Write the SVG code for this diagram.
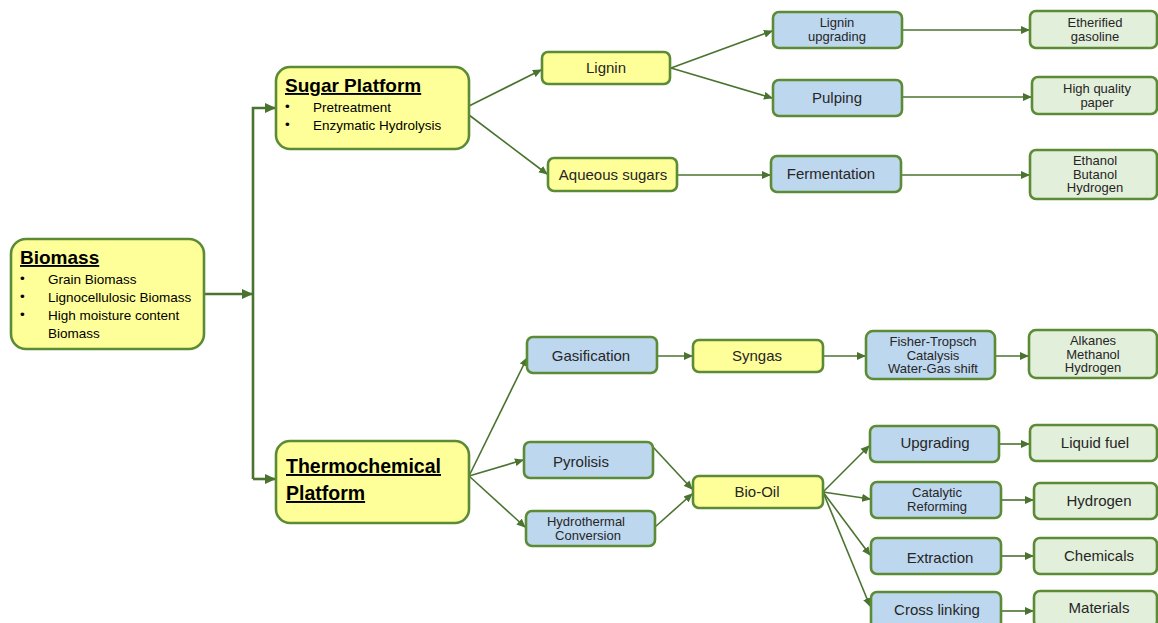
<svg xmlns="http://www.w3.org/2000/svg" width="1158" height="623" viewBox="0 0 1158 623">
<defs>
<style>
.y{fill:#ffff99;stroke:#5b8c35;stroke-width:2.6}
.b{fill:#bdd7ee;stroke:#5b8c35;stroke-width:2.6}
.g{fill:#e2efda;stroke:#5b8c35;stroke-width:2.6}
.t{font-family:"Liberation Sans",Arial,sans-serif;font-size:15px;fill:#262626;text-anchor:middle}
.m{font-family:"Liberation Sans",Arial,sans-serif;font-size:13px;fill:#262626;text-anchor:middle}
.h{font-family:"Liberation Sans",Arial,sans-serif;font-size:19px;font-weight:bold;fill:#000;text-decoration:underline}
.s{font-family:"Liberation Sans",Arial,sans-serif;font-size:13.5px;fill:#000}
.c{fill:none;stroke:#4a7330;stroke-width:1.6;marker-end:url(#a)}
.k{fill:none;stroke:#4a7330;stroke-width:2.6}
</style>
<marker id="a" markerUnits="userSpaceOnUse" markerWidth="9" markerHeight="9" refX="8" refY="4.5" orient="auto">
<path d="M0,0.5 L9,4.5 L0,8.5 z" fill="#4a7330"/>
</marker>
<marker id="a2" markerUnits="userSpaceOnUse" markerWidth="11" markerHeight="11" refX="10" refY="5.5" orient="auto">
<path d="M0,0.5 L11,5.5 L0,10.5 z" fill="#4a7330"/>
</marker>
</defs>

<g id="connectors">
<path class="k" d="M204,294 H252" marker-end="url(#a2)"/>
<path class="k" d="M253,479 V108 H275" marker-end="url(#a2)"/>
<path class="k" d="M253,479 H275" marker-end="url(#a2)"/>
<path class="c" d="M469,106 L541,70"/>
<path class="c" d="M469,115 L547,174"/>
<path class="c" d="M671,68 L772,31"/>
<path class="c" d="M671,68 L772,98"/>
<path class="c" d="M902,30 L1029,30"/>
<path class="c" d="M902,97 L1031,97"/>
<path class="c" d="M677,175 L770,175"/>
<path class="c" d="M901,175 L1029,175"/>
<path class="c" d="M469,476 L527,358"/>
<path class="c" d="M469,476 L523,460"/>
<path class="c" d="M469,476 L525,527"/>
<path class="c" d="M657,356 L692,356"/>
<path class="c" d="M823,356 L865,356"/>
<path class="c" d="M995,356 L1028,356"/>
<path class="c" d="M653,447 L692,489"/>
<path class="c" d="M655,527 L692,494"/>
<path class="c" d="M823,492 L869,446"/>
<path class="c" d="M823,492 L870,499"/>
<path class="c" d="M823,492 L870,555"/>
<path class="c" d="M823,492 L870,606"/>
<path class="c" d="M999,444 L1029,444"/>
<path class="c" d="M1001,500 L1033,500"/>
<path class="c" d="M1001,556 L1033,556"/>
<path class="c" d="M1001,611 L1033,611"/>
</g>

<g id="biomass">
<rect class="y" x="11" y="239" width="193" height="110" rx="15"/>
<text class="h" x="20" y="264">Biomass</text>
<text class="s" x="20" y="283">•</text><text class="s" x="48" y="284">Grain Biomass</text>
<text class="s" x="20" y="301">•</text><text class="s" x="48" y="302">Lignocellulosic Biomass</text>
<text class="s" x="20" y="319">•</text><text class="s" x="48" y="320">High moisture content</text>
<text class="s" x="48" y="338">Biomass</text>
</g>

<g id="sugar-platform">
<rect class="y" x="276" y="67" width="193" height="82" rx="14"/>
<text class="h" x="285" y="92">Sugar Platform</text>
<text class="s" x="285" y="111">•</text><text class="s" x="313" y="112">Pretreatment</text>
<text class="s" x="285" y="129">•</text><text class="s" x="313" y="130">Enzymatic Hydrolysis</text>
</g>

<g id="thermochemical-platform">
<rect class="y" x="276" y="441" width="193" height="82" rx="14"/>
<text class="h" x="286" y="473" style="font-size:19.5px">Thermochemical</text>
<text class="h" x="286" y="500" style="font-size:19.5px">Platform</text>
</g>

<g id="lignin">
<rect class="y" x="542" y="52" width="128" height="32" rx="6"/>
<text class="t" x="606" y="73">Lignin</text>
</g>
<g id="aqueous-sugars">
<rect class="y" x="548" y="158" width="129" height="33" rx="6"/>
<text class="t" x="613" y="180">Aqueous sugars</text>
</g>
<g id="lignin-upgrading">
<rect class="b" x="773" y="12" width="129" height="36" rx="6"/>
<text class="m" x="837" y="27">Lignin</text>
<text class="m" x="837" y="40.5">upgrading</text>
</g>
<g id="pulping">
<rect class="b" x="773" y="80" width="129" height="36" rx="6"/>
<text class="t" x="837" y="103">Pulping</text>
</g>
<g id="fermentation">
<rect class="b" x="771" y="156" width="130" height="36" rx="6"/>
<text class="t" x="831" y="179">Fermentation</text>
</g>
<g id="etherified-gasoline">
<rect class="g" x="1030" y="11" width="127" height="37" rx="6"/>
<text class="m" x="1095" y="27">Etherified</text>
<text class="m" x="1095" y="40.5">gasoline</text>
</g>
<g id="high-quality-paper">
<rect class="g" x="1032" y="77" width="125" height="37" rx="6"/>
<text class="m" x="1097" y="93">High quality</text>
<text class="m" x="1097" y="106.5">paper</text>
</g>
<g id="ethanol-butanol-hydrogen">
<rect class="g" x="1030" y="150" width="127" height="49" rx="6"/>
<text class="m" x="1095" y="165">Ethanol</text>
<text class="m" x="1095" y="178.5">Butanol</text>
<text class="m" x="1095" y="192">Hydrogen</text>
</g>

<g id="gasification">
<rect class="b" x="527" y="337" width="130" height="36" rx="6"/>
<text class="t" x="591" y="361">Gasification</text>
</g>
<g id="pyrolisis">
<rect class="b" x="524" y="442" width="129" height="36" rx="6"/>
<text class="t" x="581" y="467">Pyrolisis</text>
</g>
<g id="hydrothermal-conversion">
<rect class="b" x="526" y="511" width="129" height="35" rx="6"/>
<text class="m" x="586" y="526">Hydrothermal</text>
<text class="m" x="588" y="539.5">Conversion</text>
</g>
<g id="syngas">
<rect class="y" x="693" y="340" width="130" height="32" rx="6"/>
<text class="t" x="757" y="361">Syngas</text>
</g>
<g id="fisher-tropsch">
<rect class="b" x="866" y="331" width="129" height="48" rx="7"/>
<text class="m" x="933" y="346">Fisher-Tropsch</text>
<text class="m" x="933" y="359.5">Catalysis</text>
<text class="m" x="933" y="373">Water-Gas shift</text>
</g>
<g id="alkanes-methanol-hydrogen">
<rect class="g" x="1029" y="330" width="128" height="48" rx="7"/>
<text class="m" x="1093" y="345">Alkanes</text>
<text class="m" x="1093" y="358.5">Methanol</text>
<text class="m" x="1093" y="372">Hydrogen</text>
</g>
<g id="bio-oil">
<rect class="y" x="693" y="476" width="130" height="32" rx="6"/>
<text class="t" x="757" y="497">Bio-Oil</text>
</g>
<g id="upgrading">
<rect class="b" x="870" y="426" width="129" height="36" rx="6"/>
<text class="t" x="935" y="448">Upgrading</text>
</g>
<g id="catalytic-reforming">
<rect class="b" x="871" y="482" width="130" height="36" rx="6"/>
<text class="m" x="937" y="497">Catalytic</text>
<text class="m" x="937" y="510.5">Reforming</text>
</g>
<g id="extraction">
<rect class="b" x="871" y="538" width="130" height="36" rx="6"/>
<text class="t" x="940" y="563">Extraction</text>
</g>
<g id="cross-linking">
<rect class="b" x="871" y="592" width="130" height="36" rx="6"/>
<text class="t" x="937" y="615">Cross linking</text>
</g>
<g id="liquid-fuel">
<rect class="g" x="1030" y="425" width="127" height="36" rx="6"/>
<text class="t" x="1095" y="448">Liquid fuel</text>
</g>
<g id="hydrogen">
<rect class="g" x="1034" y="483" width="123" height="36" rx="6"/>
<text class="t" x="1099" y="506">Hydrogen</text>
</g>
<g id="chemicals">
<rect class="g" x="1034" y="538" width="123" height="36" rx="6"/>
<text class="t" x="1099" y="561">Chemicals</text>
</g>
<g id="materials">
<rect class="g" x="1034" y="591" width="123" height="36" rx="6"/>
<text class="t" x="1099" y="613">Materials</text>
</g>
</svg>
